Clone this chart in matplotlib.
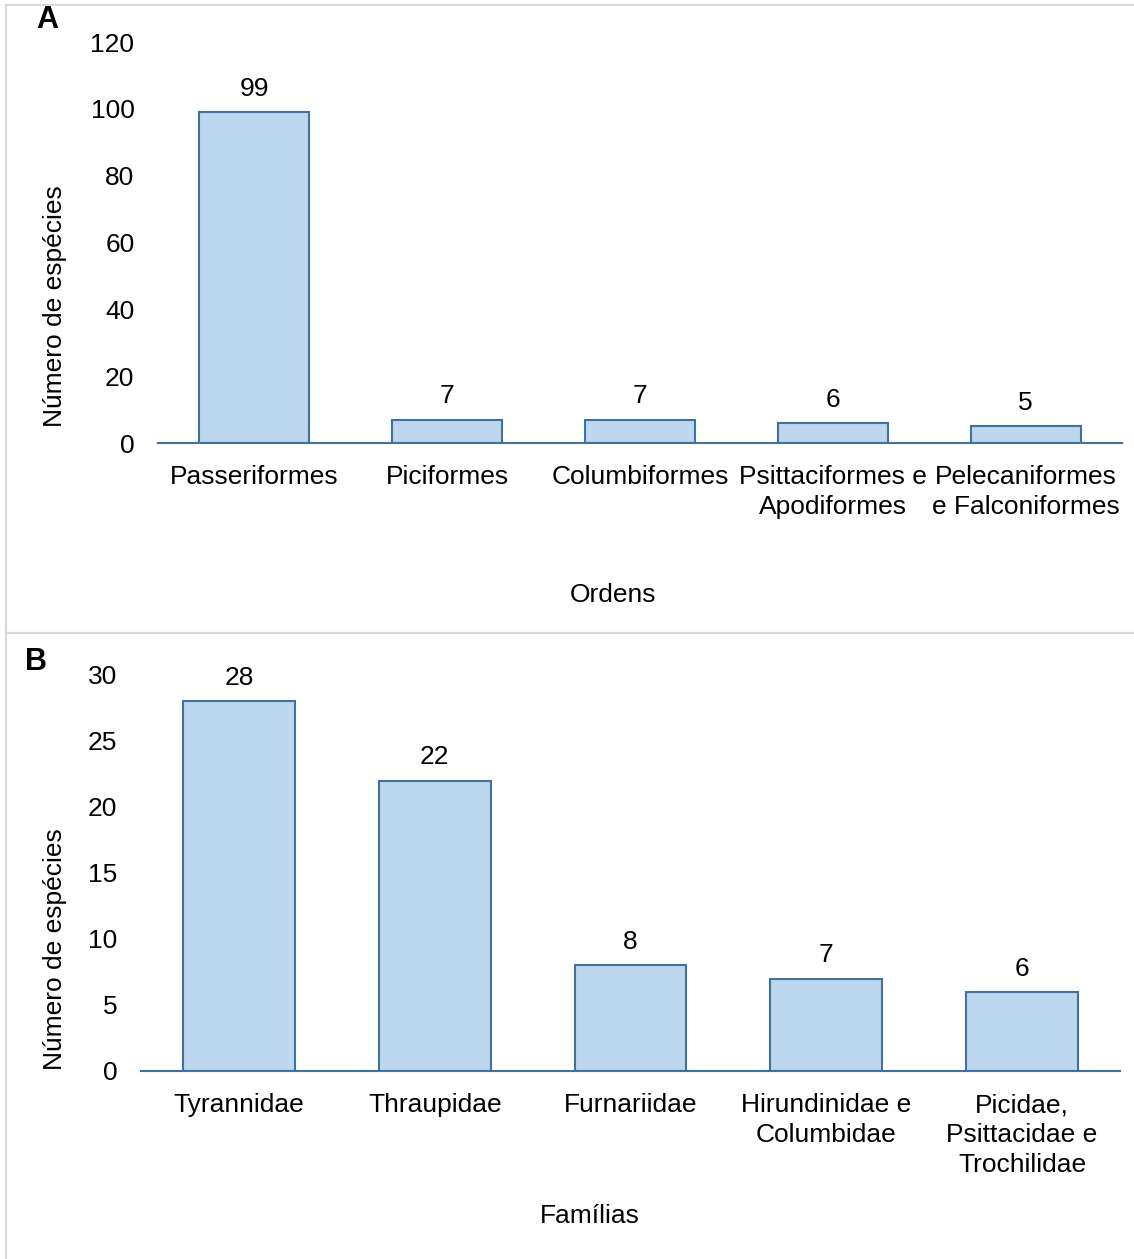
import matplotlib.pyplot as plt
from matplotlib.lines import Line2D

plt.rcParams['font.family'] = ['Liberation Sans', 'DejaVu Sans']

# Dados
ordens = ['Passeriformes', 'Piciformes', 'Columbiformes',
          'Psittaciformes e\nApodiformes', 'Pelecaniformes\ne Falconiformes']
especies_ordens = [99, 7, 7, 6, 5]

familias = ['Tyrannidae', 'Thraupidae', 'Furnariidae',
            'Hirundinidae e\nColumbidae', 'Picidae,\nPsittacidae e\nTrochilidae']
especies_familias = [28, 22, 8, 7, 6]

W, H = 1134, 1259
fig = plt.figure(figsize=(W / 100, H / 100), dpi=100)

cor_barra = '#BDD7EE'
cor_borda = '#41719C'
fs = 19


def painel(rect, cats, vals, ymax, passo):
    l, t, r, b = rect
    ax = fig.add_axes([l / W, 1 - b / H, (r - l) / W, (b - t) / H])
    x = range(len(cats))
    ax.bar(x, vals, width=0.57, color=cor_barra, edgecolor=cor_borda, linewidth=1.5, zorder=2)
    for xi, v in zip(x, vals):
        ax.annotate(str(v), (xi, v), xytext=(0, 8), textcoords='offset points',
                    ha='center', va='bottom', fontsize=fs)
    ax.set_xlim(-0.5, len(cats) - 0.5)
    ax.set_ylim(0, ymax)
    ax.set_yticks(range(0, ymax + 1, passo))
    ax.set_xticks(list(x))
    ax.set_xticklabels(cats, fontsize=fs, linespacing=1.3)
    ax.tick_params(axis='y', length=0, pad=17, labelsize=fs)
    ax.tick_params(axis='x', length=0, pad=16)
    for s in ['top', 'right', 'left']:
        ax.spines[s].set_visible(False)
    ax.spines['bottom'].set_color(cor_borda)
    ax.spines['bottom'].set_linewidth(1.5)
    return ax


painel((158, 42, 1122, 443), ordens, especies_ordens, 120, 20)
painel((141, 675, 1120, 1071), familias, especies_familias, 30, 5)

# Rótulos dos eixos
fig.text(55 / W, 1 - 306 / H, 'Número de espécies', rotation=90, ha='center', va='center', fontsize=fs)
fig.text(55 / W, 1 - 949 / H, 'Número de espécies', rotation=90, ha='center', va='center', fontsize=fs)
fig.text(613 / W, 1 - 595 / H, 'Ordens', ha='center', va='center', fontsize=fs)
fig.text(590 / W, 1 - 1216 / H, 'Famílias', ha='center', va='center', fontsize=fs)

# Letras dos painéis
fig.text(47 / W, 1 - 20 / H, 'A', ha='center', va='center', fontsize=22, fontweight='bold')
fig.text(36 / W, 1 - 662 / H, 'B', ha='center', va='center', fontsize=22, fontweight='bold')

# Molduras cinzas
cinza = '#D9D9D9'
fig.add_artist(Line2D([6 / W, 6 / W], [0, 1 - 5 / H], color=cinza, linewidth=1.6))
fig.add_artist(Line2D([6 / W, 1], [1 - 5 / H, 1 - 5 / H], color=cinza, linewidth=1.6))
fig.add_artist(Line2D([6 / W, 1], [1 - 633 / H, 1 - 633 / H], color=cinza, linewidth=1.6))

fig.savefig('out.png', dpi=100)
